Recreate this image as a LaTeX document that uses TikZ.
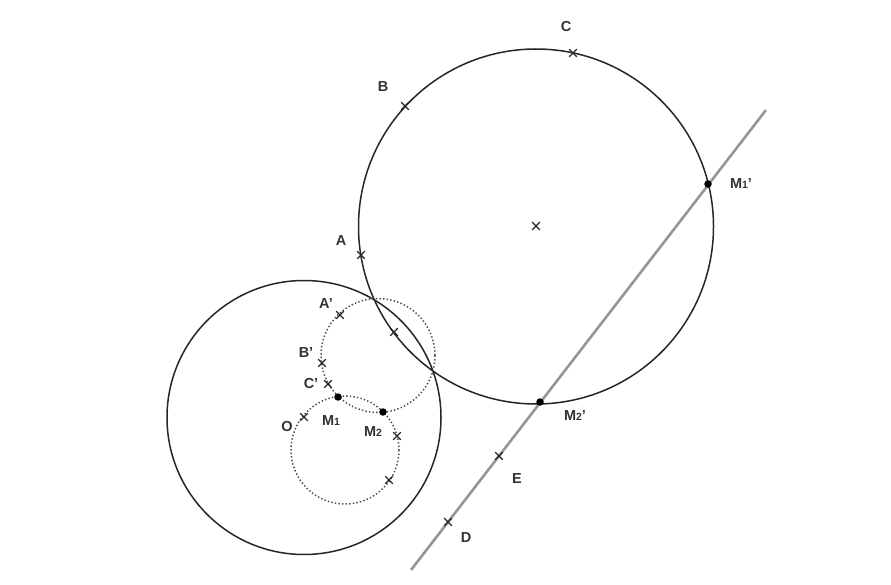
\documentclass[tikz,border=0pt]{standalone}
\usepackage{fontspec}
\setmainfont{Liberation Sans}
\usetikzlibrary{shapes.misc}
\definecolor{lineGray}{RGB}{150,150,150}
\newcommand{\subnum}[1]{{\fontsize{10.5}{10.5}\selectfont #1}}

\begin{document}
\begin{tikzpicture}[
            x=1pt, y=-1pt,
            circ/.style={line width=1.5pt, black!85},
            dotcirc/.style={line width=1.5pt, black!70, dash pattern=on 1.4pt off 2.2pt},
            cross/.style={cross out, draw, black!85, line width=1.1pt, minimum size=6.5pt, inner sep=0pt},
            dot/.style={circle, fill=black, minimum size=7.5pt, inner sep=0pt},
            lbl/.style={font=\fontsize{14.5}{14.5}\selectfont\bfseries, text=black!80, inner sep=0pt}
        ]
            \useasboundingbox (0,0) rectangle (891,585);
            % circles
            \draw [circ] (536,226.5) circle (177.5);
            \draw [circ] (304,417.5) circle (137);
            \draw [dotcirc] (378,355.5) circle (57);
            \draw [dotcirc] (345,450) circle (54);

            % the line
            \coordinate (lineS) at (411,570);
            \coordinate (lineN) at (766,110);
            \draw [lineGray, line width=2.6pt] (lineS) -- (lineN);

            % marked points
            \node (ptC) [cross] at (573,53) {};
            \node (ptB) [cross] at (405,106) {};
            \node (ptA) [cross] at (361,255) {};
            \node (ptCentre) [cross] at (536,226) {};
            \node (ptAp) [cross] at (340,315) {};
            \node (ptX) [cross] at (394,332) {};
            \node (ptBp) [cross] at (322,363) {};
            \node (ptCp) [cross] at (328,384) {};
            \node (ptO) [cross] at (304,417) {};
            \node (ptY) [cross] at (397,436) {};
            \node (ptZ) [cross] at (389,480) {};
            \node (ptE) [cross] at (499,456) {};
            \node (ptD) [cross] at (448,522) {};

            \node (ptMa) [dot] at (338,397) {};
            \node (ptMb) [dot] at (383,412) {};
            \node (ptMap) [dot] at (708,184) {};
            \node (ptMbp) [dot] at (540,402) {};

            % labels
            \node (lblC) [lbl] at (566,27) {C};
            \node (lblB) [lbl] at (383,87) {B};
            \node (lblA) [lbl] at (341,241) {A};
            \node (lblAp) [lbl] at (326,304) {A'};
            \node (lblBp) [lbl] at (306,353) {B'};
            \node (lblCp) [lbl] at (311,384) {C'};
            \node (lblO) [lbl] at (287,427) {O};
            \node (lblMa) [lbl] at (331,421) {M\subnum{1}};
            \node (lblMb) [lbl] at (373,432) {M\subnum{2}};
            \node (lblE) [lbl] at (517,479) {E};
            \node (lblD) [lbl] at (466,538) {D};
            \node (lblMap) [lbl] at (741,184) {M\subnum{1}'};
            \node (lblMbp) [lbl] at (575,416) {M\subnum{2}'};
        \end{tikzpicture}
\end{document}
